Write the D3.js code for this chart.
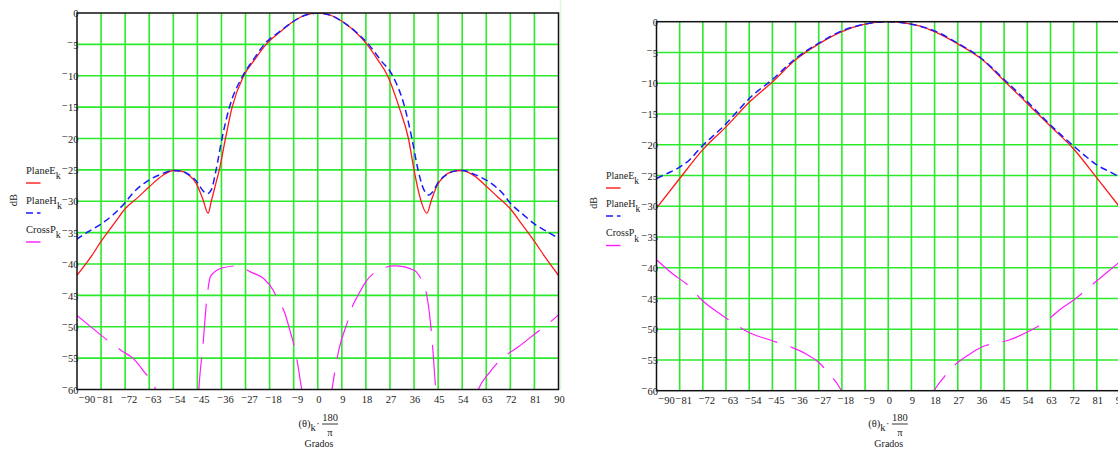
<!DOCTYPE html>
<html>
<head>
<meta charset="utf-8">
<script src="https://cdn.jsdelivr.net/npm/d3@7"></script>
<style>
  body { margin: 0; background: #fff; }
  text { font-family: "Liberation Serif", "Times New Roman", serif; fill: #222; }
</style>
</head>
<body>
<svg width="1118" height="450"></svg>
<script>
// tick values, shared by both plots
const degTicks = [-90, -81, -72, -63, -54, -45, -36, -27, -18, -9, 0, 9, 18, 27, 36, 45, 54, 63, 72, 81, 90];
const dbTicks = [0, -5, -10, -15, -20, -25, -30, -35, -40, -45, -50, -55, -60];

// left plot: [angle in degrees, dB]
const leftPlaneE = [[-90,-41.8],[-85,-39],[-81,-36.4],[-76,-33.5],[-72,-31.2],[-67,-29.3],[-63,-27.7],[-58,-25.9],[-54,-25.1],[-51,-25.2],
  [-48,-25.9],[-45.5,-27.1],[-43,-29.6],[-41,-31.9],[-39.8,-30],[-38,-27],[-36.8,-25],[-34.5,-20],[-32,-15],[-27.7,-10],[-23.5,-7.4],
  [-19.3,-5],[-14,-3],[-10,-1.6],[-5,-0.4],[0,0],[5,-0.4],[10,-1.6],[14,-3],[18.4,-5],[22.5,-7.5],[26.1,-10],[30.4,-15],[33.9,-20],
  [36,-25],[38.3,-29.5],[40.8,-31.9],[42.5,-29.8],[44.5,-27.6],[47,-26.1],[50,-25.3],[54,-25.1],[58,-25.8],[63,-27.6],[67,-29.2],
  [72,-31.2],[76,-33.5],[81,-36.4],[85,-38.9],[90,-41.8]];
const leftPlaneH = [[-90.3,-36.1],[-86,-34.9],[-81.6,-33.8],[-76.6,-32.2],[-72.2,-30.3],[-69.1,-28.7],[-64.1,-26.9],[-59.2,-25.8],
  [-54.2,-25.1],[-51,-25.2],[-48,-25.8],[-45,-27],[-43,-28.3],[-41.3,-28.8],[-39.8,-28.2],[-38,-25],[-35.8,-20],[-33,-15],[-28,-10],
  [-24,-7.4],[-20,-5],[-14,-2.9],[-10,-1.6],[-5,-0.4],[0,0],[5,-0.4],[10,-1.6],[14,-2.9],[19,-5],[23.5,-7.5],[28,-10],[32.5,-15],
  [35.2,-20],[37.5,-25],[39.5,-28],[41.6,-29],[43,-28.5],[45,-27],[48,-25.8],[51,-25.2],[54,-25.1],[59,-25.8],[64,-26.9],[69,-28.7],
  [72,-30.3],[77,-32.2],[81.6,-33.8],[86,-34.9],[90,-35.9]];
const leftCrossP = [[-90.3,-48.1],[-84,-50.3],[-77.9,-52.4],[-73.1,-53.9],[-69.1,-55],[-64.5,-57.4],[-61.4,-59.1],[-59.5,-61.5],
  [-53,-68],[-46,-64],[-44.6,-61],[-44.3,-59],[-43,-53.4],[-41.5,-45.7],[-40,-41.9],[-35.5,-40.6],[-30,-40.3],[-25,-41.3],[-20,-42.4],
  [-16.5,-44.3],[-15,-45.7],[-12.5,-47.6],[-10,-51.2],[-8.6,-53.4],[-6,-60],[-3,-68],[0,-72],[3,-67],[5.3,-60],[8,-53.5],[11.3,-49],
  [13.2,-46.5],[14.3,-45.6],[18,-42.8],[23.6,-40.8],[28.9,-40.3],[36,-41],[38.5,-42.3],[40.4,-44.3],[41.4,-46.7],[43.1,-54],[44.1,-60],
  [46,-66],[52,-69],[57,-64],[60,-60],[64.4,-57.2],[68.2,-55.3],[75,-53.2],[81.6,-51],[86.2,-49.5],[90,-48.1]];

// right plot: [angle in degrees, dB]
const rightPlaneE = [[-90,-30.3],[-81,-25.5],[-72,-20.8],[-63,-17.1],[-54,-13.1],[-45,-9.8],[-36,-6.2],[-27,-3.6],[-18,-1.6],[-9,-0.4],
  [0,0],[9,-0.4],[12.3,-0.7],[18,-1.6],[27,-3.6],[36,-6],[45,-9.6],[54,-13.3],[63,-17],[72,-20.7],[81,-25.4],[90,-30.2]];
const rightPlaneH = [[-90,-25.5],[-86,-24.7],[-81.6,-23.8],[-77,-22.4],[-74.4,-21.2],[-72,-20.1],[-67,-18.2],[-63,-16.6],[-58,-14.3],
  [-54,-12.5],[-45,-9.4],[-36,-6],[-27,-3.5],[-18,-1.5],[-9,-0.4],[0,0],[9,-0.4],[18,-1.5],[27,-3.5],[36,-5.9],[45,-9.4],[54,-13],
  [63,-16.8],[67.6,-18.6],[72.5,-20.4],[77,-22],[81,-23.3],[86,-24.4],[90,-25.3]];
const rightCrossP = [[-90,-38.7],[-84,-40.9],[-77.1,-43.1],[-72.3,-45.3],[-65,-47.6],[-59,-49.3],[-54.3,-50.5],[-45.6,-51.8],
  [-37.2,-53],[-32.1,-54],[-27.3,-55.3],[-23,-57.2],[-19,-59.4],[-16,-62],[-8,-68],[0,-71],[8,-68],[15,-62.5],[17.5,-60.2],
  [21.8,-57.7],[25.9,-55.8],[31.1,-54.2],[36.3,-52.9],[41.2,-52.3],[46.6,-51.8],[53.8,-50.5],[62.2,-48.4],[66.7,-46.8],
  [71.9,-45.3],[80,-42.5],[90,-39]];

const svg = d3.select("svg");

const charts = [
  { id: "L", xr: [77, 558.5], yr: [13, 389.5], planeE: leftPlaneE, planeH: leftPlaneH, crossP: leftCrossP,
    legendX: 26, legendY: [173.5, 203.5, 232.5], dbAt: [13, 200], fs: 10.5, xLabelAt: 318.5 },
  { id: "R", xr: [656.5, 1120], yr: [21.7, 390.7], planeE: rightPlaneE, planeH: rightPlaneH, crossP: rightCrossP,
    legendX: 606, legendY: [178.5, 206.5, 236], dbAt: [593, 203], fs: 10, xLabelAt: 888.3 }
];

// faint frame line left of the second region
svg.append("line").attr("x1", 560.5).attr("x2", 560.5).attr("y1", 0).attr("y2", 390)
  .attr("stroke", "#def5de").attr("stroke-width", 1.5);

// raised minus like the original worksheet
const signed = function (d) {
  const t = d3.select(this);
  t.text(null);
  if (d < 0) {
    t.append("tspan").attr("dy", "-2.5").text("\u2212");
    t.append("tspan").attr("dy", "2.5").text(Math.abs(d));
  } else t.text(d);
};

charts.forEach(c => {
  const x = d3.scaleLinear().domain([-90, 90]).range(c.xr);
  const y = d3.scaleLinear().domain([0, -60]).range(c.yr);
  const g = svg.append("g");

  g.append("clipPath").attr("id", "clip" + c.id).append("rect")
    .attr("x", c.xr[0]).attr("y", c.yr[0]).attr("width", c.xr[1] - c.xr[0]).attr("height", c.yr[1] - c.yr[0]);

  // grid
  g.selectAll(".vg").data(degTicks.slice(1, -1)).enter().append("line")
    .attr("x1", d => x(d)).attr("x2", d => x(d)).attr("y1", c.yr[0]).attr("y2", c.yr[1])
    .attr("stroke", "#2bea2b").attr("stroke-width", 1.6);
  g.selectAll(".hg").data(dbTicks.slice(1, -1)).enter().append("line")
    .attr("x1", c.xr[0]).attr("x2", c.xr[1]).attr("y1", d => y(d)).attr("y2", d => y(d))
    .attr("stroke", "#2bea2b").attr("stroke-width", 1.6);

  const line = d3.line().x(d => x(d[0])).y(d => y(d[1])).curve(d3.curveMonotoneX);
  const plot = g.append("g").attr("clip-path", `url(#clip${c.id})`);
  plot.append("path").datum(c.planeE).attr("d", line).attr("fill", "none")
    .attr("stroke", "#ff1a1a").attr("stroke-width", 1.3);
  plot.append("path").datum(c.planeH).attr("d", line).attr("fill", "none")
    .attr("stroke", "#1a1aff").attr("stroke-width", 1.5).attr("stroke-dasharray", "7,4");
  plot.append("path").datum(c.crossP).attr("d", line).attr("fill", "none")
    .attr("stroke", "#ff1aff").attr("stroke-width", 1.2).attr("stroke-dasharray", "40,14");

  // frame
  g.append("rect").attr("x", c.xr[0]).attr("y", c.yr[0]).attr("width", c.xr[1] - c.xr[0]).attr("height", c.yr[1] - c.yr[0])
    .attr("fill", "none").attr("stroke", "#111").attr("stroke-width", 1.5);

  // y axis labels
  g.append("g").attr("transform", `translate(${c.xr[0] + 1.5},0)`)
    .call(d3.axisLeft(y).tickValues(dbTicks).tickSize(0).tickPadding(0))
    .call(a => a.select(".domain").remove())
    .selectAll("text").attr("font-size", 10.5).attr("font-family", "Liberation Serif").attr("fill", "#222")
    .attr("y", 3.7).attr("dy", null).each(signed);

  // x axis labels
  g.append("g").attr("transform", `translate(0,${c.yr[1]})`)
    .call(d3.axisBottom(x).tickValues(degTicks).tickSize(0).tickPadding(0))
    .call(a => a.select(".domain").remove())
    .selectAll("text").attr("font-size", 10.5).attr("font-family", "Liberation Serif").attr("fill", "#222")
    .attr("y", 13.5).attr("dy", null)
    .attr("x", d => d === -90 ? 9.5 : (d < 0 ? 3.5 : 0.5))
    .each(signed);

  // dB label
  svg.append("text").attr("transform", `translate(${c.dbAt[0]},${c.dbAt[1]}) rotate(-90)`)
    .attr("text-anchor", "middle").attr("dy", "0.35em").attr("font-size", c.fs).text("dB");

  // legend
  const names = [["PlaneE", "#ff1a1a", null], ["PlaneH", "#1a1aff", "7,4"], ["CrossP", "#ff1aff", null]];
  names.forEach((n, i) => {
    const ly = c.legendY[i];
    const t = svg.append("text").attr("x", c.legendX).attr("y", ly).attr("font-size", c.fs);
    t.append("tspan").text(n[0]);
    t.append("tspan").attr("dy", 5.5).attr("font-size", c.fs - 0.5).text("k");
    svg.append("line").attr("x1", c.legendX).attr("x2", c.legendX + 14.5)
      .attr("y1", ly + 9.5).attr("y2", ly + 9.5).attr("stroke", n[1]).attr("stroke-width", 1.4)
      .attr("stroke-dasharray", n[2]);
  });

  // x label: (θ)k · 180/π  and Grados
  const cx = c.xLabelAt;
  const xl = svg.append("text").attr("x", cx - 20).attr("y", 427).attr("font-size", 10.5);
  xl.append("tspan").text("(θ)");
  xl.append("tspan").attr("dy", 4).attr("font-size", 10.5).text("k");
  xl.append("tspan").attr("dy", -4).attr("dx", 0.5).text("·");
  svg.append("text").attr("x", cx + 11.5).attr("y", 420.5).attr("text-anchor", "middle").attr("font-size", 10.5).text("180");
  svg.append("line").attr("x1", cx + 3.5).attr("x2", cx + 19.5).attr("y1", 424).attr("y2", 424)
    .attr("stroke", "#222").attr("stroke-width", 0.9);
  svg.append("text").attr("x", cx + 11.5).attr("y", 435.5).attr("text-anchor", "middle").attr("font-size", 10.5).text("π");
  svg.append("text").attr("x", cx + 0.5).attr("y", 447).attr("text-anchor", "middle").attr("font-size", 10).text("Grados");
});
</script>
</body>
</html>
